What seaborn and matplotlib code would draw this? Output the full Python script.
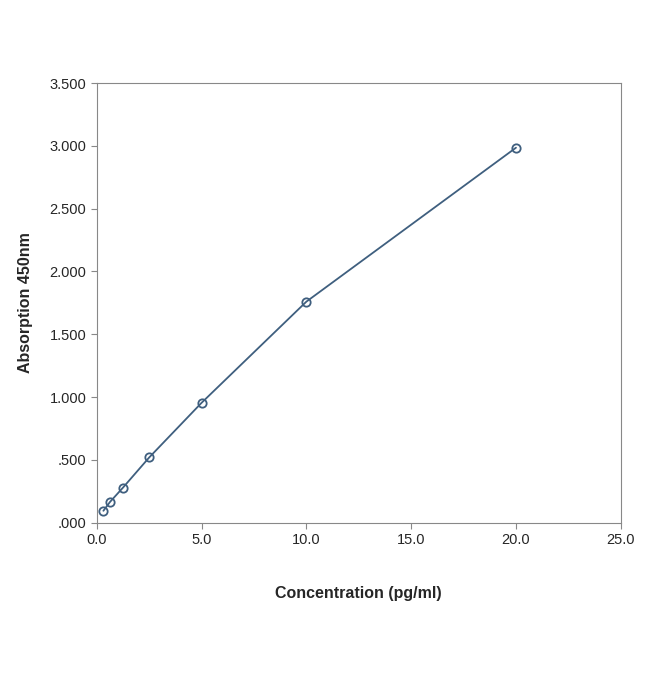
import matplotlib
matplotlib.use("Agg")
import matplotlib.pyplot as plt
import seaborn as sns
import pandas as pd
from matplotlib.ticker import FuncFormatter

conc = [0.3125, 0.625, 1.25, 2.5, 5.0, 10.0, 20.0]
absorb = [0.095, 0.165, 0.28, 0.52, 0.955, 1.76, 2.985]

sns.set_style("white")
plt.rcParams['font.family'] = ['Liberation Sans', 'DejaVu Sans']

df = pd.DataFrame({"c": conc, "a": absorb})
fig = plt.figure(figsize=(6.5, 6.86), dpi=100)
ax = fig.add_axes([0.149, 0.238, 0.806, 0.641])
col = "#3f5f7f"
sns.lineplot(data=df, x="c", y="a", ax=ax, color=col, linewidth=1.3,
             marker="o", markersize=6, markerfacecolor="none",
             markeredgecolor=col, markeredgewidth=1.3)
ax.set_xlim(0, 25)
ax.set_ylim(0, 3.5)
ax.set_xticks([0, 5, 10, 15, 20, 25])
ax.set_yticks([0, 0.5, 1, 1.5, 2, 2.5, 3, 3.5])
ax.xaxis.set_major_formatter(FuncFormatter(lambda v, p: f"{v:.1f}"))
def yf(v, p):
    s = f"{v:.3f}"
    return s[1:] if s.startswith("0") else s
ax.yaxis.set_major_formatter(FuncFormatter(yf))
for s in ax.spines.values():
    s.set_color("#888888")
    s.set_linewidth(0.8)
ax.tick_params(axis="both", which="both", direction="out", length=4,
               color="#888888", labelsize=10.5, bottom=True, left=True)
ax.set_xlabel("Concentration (pg/ml)", fontsize=11.5, fontweight="bold", labelpad=28)
ax.set_ylabel("Absorption 450nm", fontsize=11.5, fontweight="bold", labelpad=12)
fig.savefig("out.png", dpi=100)
